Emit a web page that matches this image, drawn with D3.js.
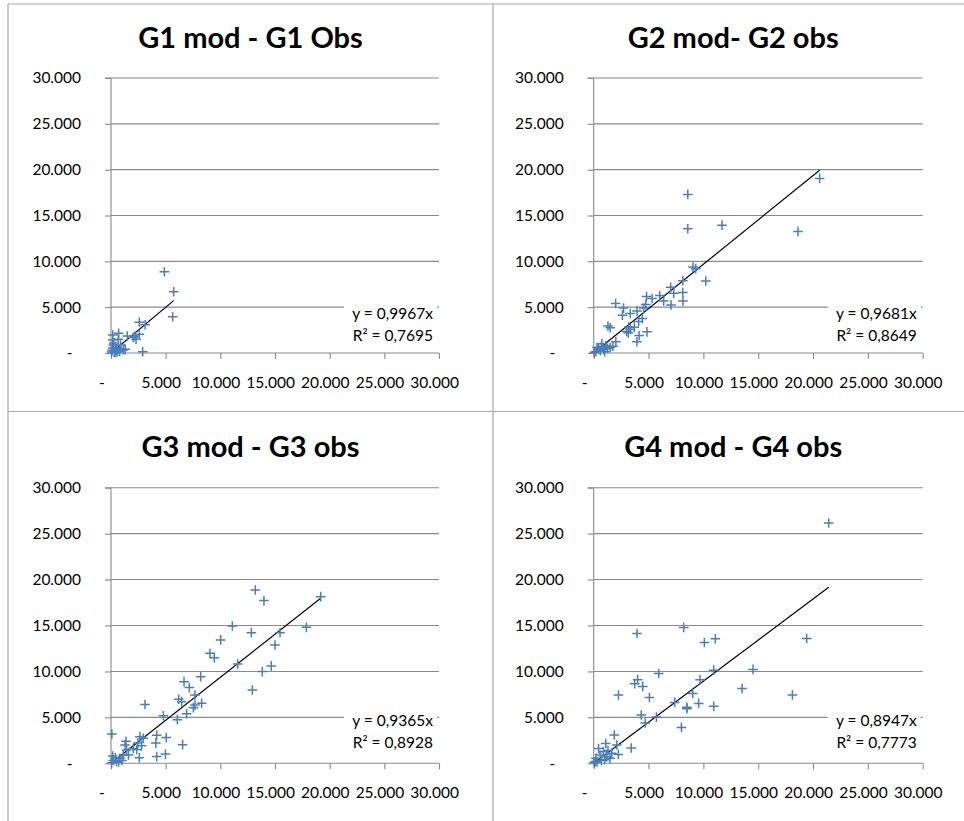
<!DOCTYPE html>
<html>
<head>
<meta charset="utf-8">
<script src="https://cdn.jsdelivr.net/npm/d3@7"></script>
<style>
  html, body { margin: 0; padding: 0; background: #fff; }
  svg { display: block; }
</style>
</head>
<body>
<svg id="chart" width="964" height="821"></svg>
<script>
// ---------- DATA (values in thousands) ----------
const titles = ["G1 mod - G1 Obs", "G2 mod- G2 obs", "G3 mod - G3 obs", "G4 mod - G4 obs"];
const tickValues = [0, 5000, 10000, 15000, 20000, 25000, 30000];
const slopes = [0.9967, 0.9681, 0.9365, 0.8947];
const r2 = [0.7695, 0.8649, 0.8928, 0.7773];

const g1x = [4.88,5.73,5.64,2.59,3.12,2.90,2.20,2.29,2.04,2.59,1.49,0.70,0.16,0.16,0.67,0.21,0.88,1.13,0.52,0.05,0.30,0.60,0.90,0.40,0.10,1.30,0.80,0.25,0.45,0.15];
const g1y = [8.87,6.69,3.96,3.35,3.08,0.14,1.85,1.49,1.71,2.04,1.85,2.15,1.96,1.42,1.49,0.87,0.87,0.33,0.33,0.10,0.05,0.15,0.50,0.60,0.30,0.40,0.20,1.10,0.05,0.55];

const g2x = [20.6,18.63,8.58,8.58,11.7,9.05,9.3,10.22,8.13,8.12,8.14,7.02,7.3,7.05,6.02,6.38,5.32,4.82,4.74,4.55,4.86,4.43,3.95,3.33,2.72,2.62,2.0,4.1,3.94,4.14,3.7,3.2,3.35,3.0,3.15,1.3,1.5,2.02,1.75,1.25,0.75,0.45,0.2,0.05,0.6,0.9,1.1,1.5,0.3,1.0,0.7];
const g2y = [19.05,13.25,17.3,13.55,13.95,9.37,9.2,7.85,7.88,6.6,5.66,7.18,6.52,5.25,6.27,5.68,5.95,6.16,5.3,4.9,2.31,3.77,4.57,4.31,4.9,4.13,5.4,3.45,1.22,1.91,2.8,2.85,2.6,2.35,2.2,2.95,2.75,1.22,0.75,0.5,1.0,0.5,0.15,0.05,0.25,0.4,0.8,0.6,0.6,0.15,0.7];

const g3x = [13.2,13.99,19.18,17.87,11.1,12.84,15.46,15.0,10.03,9.05,9.45,11.59,14.66,13.84,12.93,8.2,6.68,7.16,6.19,6.46,7.68,7.68,7.53,8.29,6.92,6.07,4.79,6.55,3.11,0.08,5.05,4.18,4.1,4.18,4.98,2.96,2.65,2.45,2.8,2.59,2.35,2.04,1.37,1.43,1.28,1.13,0.82,0.5,0.2,0.05,0.4,1.0,0.15,0.7,1.6];
const g3y = [18.87,17.71,18.14,14.8,14.95,14.22,14.22,12.88,13.43,11.97,11.5,10.81,10.6,9.98,7.98,9.43,8.89,8.24,6.97,6.71,7.44,6.35,6.06,6.53,5.4,4.75,5.17,2.03,6.4,3.19,2.8,3.05,2.2,0.73,1.0,2.72,2.9,2.2,1.9,0.6,1.5,1.6,2.4,1.45,1.99,0.9,0.54,0.2,0.3,0.05,0.6,0.3,0.8,0.15,0.9];

const g4x = [21.43,19.42,18.12,14.53,13.53,11.09,10.09,8.21,3.95,10.94,10.94,9.7,9.03,9.57,8.5,8.5,7.39,8.0,5.93,5.08,3.74,4.01,4.47,2.26,4.33,4.7,5.72,3.42,1.88,2.11,2.25,1.1,0.44,0.88,0.58,1.19,1.49,0.2,1.65,0.3,0.05,0.7,1.0,1.3,0.15];
const g4y = [26.16,13.59,7.43,10.22,8.15,13.55,13.15,14.78,14.13,10.14,6.2,9.09,7.6,6.52,6.1,5.95,6.63,3.91,9.78,7.17,8.66,9.09,8.37,7.43,5.25,4.38,5.03,1.67,3.08,1.99,0.95,2.15,1.6,1.26,0.9,0.72,0.54,0.54,1.09,0.15,0.05,0.3,0.4,1.4,0.2];

const seriesX = [g1x, g2x, g3x, g4x];
const seriesY = [g1y, g2y, g3y, g4y];

// ---------- LAYOUT ----------
const panels = [
  { x0: 111,   x1: 439,   y0: 353,   y1: 78 },
  { x0: 593.7, x1: 922.7, y0: 353,   y1: 78 },
  { x0: 111,   x1: 439,   y0: 763.3, y1: 487.7 },
  { x0: 593.7, x1: 922.7, y0: 763.3, y1: 487.7 }
];
const titleY = [47.7, 47.7, 456.7, 456.7];

const gridColor = "#8a8a8a";
const markerColor = "#4a7ebb";
const fontFamily = "Lato, 'Open Sans', sans-serif";

const svg = d3.select("#chart");

// frame lines between the charts
const frame = svg.append("g").attr("stroke", "#a6a6a6").attr("stroke-width", 1.2).attr("fill", "none");
frame.append("line").attr("x1", 8).attr("x2", 964).attr("y1", 4).attr("y2", 4);
frame.append("line").attr("x1", 8).attr("x2", 8).attr("y1", 4).attr("y2", 821);
frame.append("line").attr("x1", 493).attr("x2", 493).attr("y1", 4).attr("y2", 821);
frame.append("line").attr("x1", 8).attr("x2", 964).attr("y1", 411.5).attr("y2", 411.5);

const fmt = v => v === 0 ? "-" : d3.format(",")(v).replace(/,/g, ".");
const fmtDec = v => d3.format(".4f")(v).replace(".", ",");

panels.forEach((p, i) => {
  const x = d3.scaleLinear().domain([0, 30000]).range([p.x0, p.x1]);
  const y = d3.scaleLinear().domain([0, 30000]).range([p.y0, p.y1]);
  const g = svg.append("g");

  // horizontal gridlines
  g.append("g").selectAll("line").data(tickValues.filter(v => v > 0)).join("line")
    .attr("x1", p.x0).attr("x2", p.x1)
    .attr("y1", d => y(d)).attr("y2", d => y(d))
    .attr("stroke", gridColor).attr("stroke-width", 1.1);

  // y axis (ticks outside to the left)
  const yAxis = d3.axisLeft(y).tickValues(tickValues).tickSize(6).tickFormat("");
  const ya = g.append("g").attr("transform", `translate(${p.x0},0)`).call(yAxis);
  ya.select(".domain").attr("stroke", gridColor).attr("stroke-width", 1.1).attr("d", `M-6,${p.y1}H0V${p.y0}`);
  ya.selectAll(".tick line").attr("stroke", gridColor).attr("stroke-width", 1.1);

  // x axis (ticks outside, pointing down)
  const xAxis = d3.axisBottom(x).tickValues(tickValues).tickSize(6).tickFormat("");
  const xa = g.append("g").attr("transform", `translate(0,${p.y0})`).call(xAxis);
  xa.select(".domain").attr("stroke", gridColor).attr("stroke-width", 1.1).attr("d", `M${p.x0},0H${p.x1}`);
  xa.selectAll(".tick line").attr("stroke", gridColor).attr("stroke-width", 1.1);

  // y tick labels
  g.append("g").selectAll("text").data(tickValues).join("text")
    .attr("x", d => p.x0 - 30 - (d === 0 ? 8.5 : 0))
    .attr("y", d => y(d))
    .attr("dy", "0.35em")
    .attr("text-anchor", "end")
    .attr("font-family", fontFamily).attr("font-size", 15.5).attr("fill", "#000")
    .text(fmt);

  // x tick labels
  g.append("g").selectAll("text").data(tickValues).join("text")
    .attr("x", d => x(d) - (d === 0 ? 9 : 4.4))
    .attr("y", p.y0 + 34.5)
    .attr("text-anchor", "middle")
    .attr("font-family", fontFamily).attr("font-size", 15.5).attr("fill", "#000")
    .text(fmt);

  // title
  g.append("text")
    .attr("x", p.x0 + 139.5).attr("y", titleY[i])
    .attr("text-anchor", "middle")
    .attr("font-family", fontFamily).attr("font-weight", "bold").attr("font-size", 29)
    .attr("fill", "#000")
    .text(titles[i]);

  // data points
  const pts = seriesX[i].map((v, k) => ({ x: v * 1000, y: seriesY[i][k] * 1000 }));

  // trend line y = slope * x, from 0 to max x
  const xmax = d3.max(pts, d => d.x);
  g.append("line")
    .attr("x1", x(0)).attr("y1", y(0))
    .attr("x2", x(xmax)).attr("y2", y(slopes[i] * xmax))
    .attr("stroke", "#000").attr("stroke-width", 1.2);

  const mk = g.append("g").attr("stroke", markerColor).attr("stroke-width", 1.5).attr("fill", "none");
  mk.selectAll("path").data(pts).join("path")
    .attr("d", d => {
      const cx = x(d.x), cy = y(d.y), s = 4.8;
      return `M${cx - s},${cy}H${cx + s}M${cx},${cy - s}V${cy + s}`;
    });

  // equation label with white background
  const lx = p.x1 - 6;
  g.append("rect")
    .attr("x", p.x1 - 95).attr("y", p.y0 - 52)
    .attr("width", 93).attr("height", 49)
    .attr("fill", "#fff");
  const eq = g.append("text")
    .attr("text-anchor", "end")
    .attr("font-family", fontFamily).attr("font-size", 15.5).attr("fill", "#000");
  eq.append("tspan").attr("x", lx).attr("y", p.y0 - (i < 2 ? 34 : 37.5)).text(`y = ${fmtDec(slopes[i])}x`);
  eq.append("tspan").attr("x", lx).attr("y", p.y0 - (i < 2 ? 12.5 : 15.8)).text(`R² = ${fmtDec(r2[i])}`);
});
</script>
</body>
</html>
